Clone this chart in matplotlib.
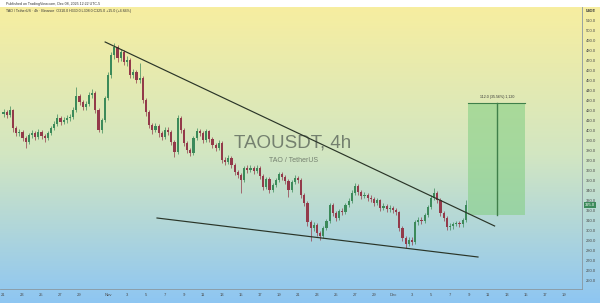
import numpy as np
import matplotlib
matplotlib.use("Agg")
import matplotlib.pyplot as plt
from matplotlib.colors import LinearSegmentedColormap
from matplotlib.patches import Rectangle
import matplotlib.transforms as mtransforms

plt.rcParams['font.family'] = ['Liberation Sans', 'DejaVu Sans']

# 4h 图 -> 每根K线 8 小时 (day 0 = Oct 1)
t_start = 20.0
first_open = 416
closes = [418, 415, 420, 402, 397, 398, 392, 388, 395, 397,
          393, 398, 394, 392, 397, 402, 406, 412, 408, 410,
          412, 413, 420, 434, 428, 423, 426, 435, 437, 420,
          400, 410, 432, 455, 475, 483, 472, 478, 468, 470,
          455, 458, 450, 452, 430, 418, 405, 400, 404, 397,
          393, 400, 398, 388, 378, 412, 400, 387, 380, 377,
          392, 399, 397, 390, 399, 391, 385, 382, 387, 370,
          368, 372, 365, 358, 355, 350, 362, 360, 362, 359,
          362, 354, 343, 351, 340, 345, 350, 356, 353, 349,
          340, 348, 352, 350, 335, 327, 308, 302, 305, 297,
          294, 302, 309, 325, 317, 312, 319, 318, 325, 329,
          337, 344, 338, 334, 335, 332, 331, 327, 330, 322,
          324, 321, 322, 320, 318, 302, 292, 286, 290, 288,
          308, 310, 309, 315, 323, 332, 337, 330, 317, 312,
          303, 304, 306, 307, 306, 310, 325]
highs = [421, 420, 424, 421, 404, 401, 400, 394, 397, 400,
         399, 401, 400, 396, 399, 404, 409, 416, 414, 413,
         415, 416, 423, 443, 436, 430, 429, 438, 441, 439,
         422, 412, 434, 458, 478, 487, 485, 481, 480, 474,
         472, 461, 460, 467, 454, 432, 420, 407, 407, 406,
         399, 403, 403, 400, 390, 415, 414, 402, 389, 382,
         394, 402, 401, 399, 401, 400, 393, 387, 390, 389,
         373, 375, 374, 367, 360, 357, 364, 365, 365, 364,
         365, 364, 356, 353, 353, 347, 352, 358, 358, 355,
         351, 350, 355, 354, 352, 337, 329, 310, 308, 307,
         299, 304, 311, 327, 327, 319, 321, 322, 327, 332,
         340, 347, 346, 340, 338, 337, 335, 333, 332, 331,
         327, 326, 325, 324, 322, 319, 304, 294, 293, 293,
         310, 313, 313, 317, 325, 335, 342, 339, 332, 319,
         314, 307, 308, 309, 309, 312, 330]
lows = [413, 412, 413, 398, 394, 394, 389, 382, 386, 392,
        390, 391, 391, 388, 390, 395, 400, 404, 405, 406,
        407, 409, 411, 418, 425, 420, 420, 424, 432, 417,
        398, 397, 408, 430, 452, 471, 468, 469, 465, 464,
        452, 452, 447, 447, 427, 414, 402, 396, 398, 393,
        390, 391, 395, 385, 373, 376, 397, 384, 377, 374,
        375, 390, 394, 387, 388, 388, 382, 379, 380, 367,
        365, 366, 362, 355, 352, 337, 348, 357, 358, 356,
        357, 351, 340, 341, 337, 338, 343, 348, 350, 346,
        333, 338, 346, 347, 332, 324, 304, 289, 299, 294,
        290, 292, 300, 307, 314, 309, 310, 315, 316, 323,
        327, 335, 335, 331, 332, 329, 328, 324, 325, 319,
        320, 318, 318, 317, 315, 299, 289, 282, 284, 285,
        286, 305, 306, 307, 313, 321, 330, 327, 314, 309,
        300, 300, 301, 304, 303, 303, 308]

# 趋势线 (day, price)
upper_line_t = [30.7, 71.7]
upper_line_p = [488, 304]
lower_line_t = [36.16, 69.95]
lower_line_p = [312, 273]

# 多头仓位框
pos_t0, pos_t1, pos_mid = 68.9, 74.9, 71.95
entry_price, target_price = 315, 427

tick_days = [20, 22, 24, 26, 28, 31, 33, 35, 37, 39, 41, 43, 45, 47, 49, 51, 53,
             55, 57, 59, 61, 63, 65, 67, 69, 71, 73, 75, 77, 79]
tick_labels = ['21', '23', '25', '27', '29', 'Nov', '3', '5', '7', '9', '11', '13',
               '15', '17', '19', '21', '23', '25', '27', '29', 'Dec', '3', '5', '7',
               '9', '11', '13', '15', '17', '19']
price_ticks = list(range(250, 521, 10))

W, H = 600, 303
fig = plt.figure(figsize=(W / 100, H / 100), dpi=100)
fig.patch.set_facecolor('white')

# 渐变背景
bg = fig.add_axes([0, 0, 1, 296 / H])
cmap = LinearSegmentedColormap.from_list('bg', ['#f7eea0', '#d2e6c2', '#8ec6f2'])
grad = np.linspace(0, 1, 256).reshape(-1, 1)
bg.imshow(grad, aspect='auto', cmap=cmap, extent=[0, 1, 0, 1], origin='upper')
bg.axis('off')

ax = fig.add_axes([0, 14 / H, 582 / W, 282 / H])
ax.patch.set_alpha(0)
ax.set_xlim(19.63, 80.9)
ax.set_ylim(241, 523)

c = np.array(closes, dtype=float)
o = np.array([first_open] + closes[:-1], dtype=float)
h = np.array(highs, dtype=float)
l = np.array(lows, dtype=float)
t = t_start + np.arange(len(c)) / 3.0
up = c >= o
cols = np.where(up, '#3c8a5a', '#933a4a')

ax.vlines(t, l, h, colors=cols, lw=0.5, zorder=3)
ax.bar(t, np.maximum(np.abs(c - o), 0.6), bottom=np.minimum(o, c), width=0.22,
       color=cols, lw=0, zorder=4)

# 趋势线
ax.plot(upper_line_t, upper_line_p, color='#2a3528', lw=0.85, zorder=5)
ax.plot(lower_line_t, lower_line_p, color='#2a3528', lw=0.85, zorder=5)

# 水印
ax.text(50.4, 387, 'TAOUSDT, 4h', fontsize=13.5, color='#74806f', ha='center',
        va='center', zorder=1)
ax.text(50.5, 370, 'TAO / TetherUS', fontsize=5, color='#74806f', ha='center',
        va='center', zorder=1)

# 多头仓位
ax.add_patch(Rectangle((pos_t0, entry_price), pos_t1 - pos_t0, target_price - entry_price,
                       facecolor='#86cf86', alpha=0.6, lw=0, zorder=2))
ax.plot([pos_t0, pos_t1], [target_price, target_price], color='#3f7f4a', lw=0.8, zorder=3)
ax.plot([pos_mid, pos_mid], [entry_price, target_price], color='#3f7f4a', lw=1.0, zorder=3)
diff = target_price - entry_price
ax.text(pos_mid, target_price + 4, f'{diff:.1f} ({diff / entry_price * 100:.2f}%) {diff * 10:,.0f}',
        fontsize=2.6, ha='center', va='bottom', color='#333333')

# 坐标轴
ax.yaxis.tick_right()
ax.set_yticks(price_ticks)
ax.set_yticklabels([f'{p:.1f}' for p in price_ticks])
ax.tick_params(axis='y', length=0, labelsize=3, pad=3, labelcolor='#4a4a4a')
ax.set_xticks(tick_days)
ax.set_xticklabels(tick_labels)
ax.tick_params(axis='x', length=0, labelsize=3, pad=3, labelcolor='#4a4a4a')
for s in ['top', 'left']:
    ax.spines[s].set_visible(False)
for s in ['right', 'bottom']:
    ax.spines[s].set_color('#8a97a0')
    ax.spines[s].set_linewidth(0.6)

trans = mtransforms.blended_transform_factory(ax.transAxes, ax.transData)
ax.text(1.005, closes[-1], f'{closes[-1]:.1f}', transform=trans, fontsize=3, color='white',
        va='center', bbox=dict(fc='#3c8a5a', ec='none', pad=0.6), zorder=6)

# 页眉
fig.text(6 / W, 1 - 3.5 / H, 'Published on TradingView.com, Dec 08, 2025 12:22 UTC-5',
         fontsize=2.6, va='center', color='#333333')
fig.text(6 / W, 1 - 11 / H,
         f'TAO / TetherUS · 4h · Binance  O{o[-1]:.1f} H{h[-1]:.1f} L{l[-1]:.1f} C{c[-1]:.1f} '
         f'+{c[-1] - o[-1]:.1f} (+{(c[-1] - o[-1]) / o[-1] * 100:.2f}%)',
         fontsize=2.6, va='center', color='#333333')
fig.text(591 / W, 1 - 11 / H, 'USDT', fontsize=2.6, ha='center', va='center', color='#333333')

fig.savefig('out.png', dpi=100)
